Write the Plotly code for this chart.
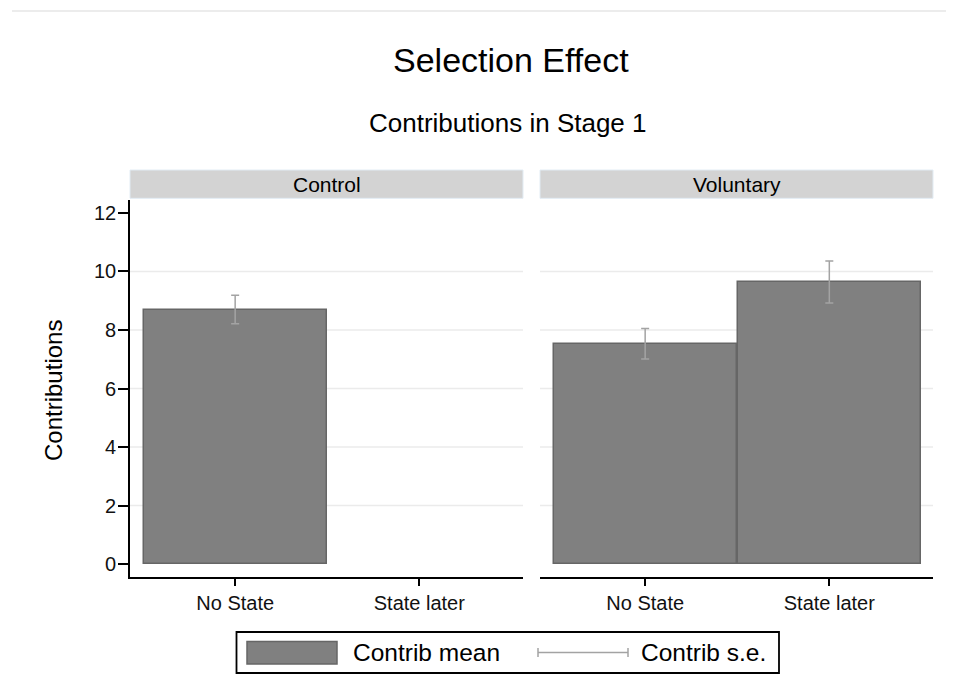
import plotly.graph_objects as go

# ---- data ----
panels = ["Control", "Voluntary"]
categories = ["No State", "State later"]
cat_pos = [1, 2]
control_mean = [8.70, None]
control_se = [0.49, None]
voluntary_mean = [7.53, 9.64]
voluntary_se = [0.52, 0.72]
y_ticks = [0, 2, 4, 6, 8, 10, 12]
grid_vals = [2, 4, 6, 8, 10]

title = "Selection Effect"
subtitle = "Contributions in Stage 1"
y_title = "Contributions"
legend_labels = ["Contrib mean", "Contrib s.e."]

# ---- style ----
OFF = 8  # page body margin
W, H = 954 - OFF, 699 - OFF
FONT = "Liberation Sans, Arial, sans-serif"
BAR_FILL = "#808080"
BAR_LINE = "#666666"
ERR_COL = "#a3a3a3"
GRID_COL = "#ebebeb"
STRIP_FILL = "#d3d3d3"

def px(x):
    return (x - OFF) / W

def py(y):
    return 1 - (y - OFF) / H

x_left = (130, 523)
x_right = (540, 933)
plot_top, plot_bot = 200, 576.7
strip_top, strip_bot = 170, 198.3

fig = go.Figure()

for i, (means, ses) in enumerate([(control_mean, control_se), (voluntary_mean, voluntary_se)]):
    xs = [p for p, m in zip(cat_pos, means) if m is not None]
    ms = [m for m in means if m is not None]
    ss = [s for s in ses if s is not None]
    xa = "x" if i == 0 else "x2"
    ya = "y" if i == 0 else "y2"
    fig.add_trace(go.Bar(
        x=xs, y=ms, width=0.995, xaxis=xa, yaxis=ya,
        marker=dict(color=BAR_FILL, line=dict(color=BAR_LINE, width=1.5)),
        showlegend=False, hoverinfo="skip",
    ))
    fig.add_trace(go.Scatter(
        x=xs, y=ms, mode="markers", xaxis=xa, yaxis=ya,
        marker=dict(size=0.1, color="rgba(0,0,0,0)"),
        error_y=dict(type="data", array=ss, color=ERR_COL, thickness=1.5, width=4),
        showlegend=False, hoverinfo="skip",
    ))

yr = [-0.434, 12.444]
xr = [0.429, 2.563]
axis_common = dict(showgrid=False, zeroline=False, linecolor="black", linewidth=1.6,
                   tickfont=dict(family=FONT, size=20, color="#111111"))

fig.update_layout(
    width=W, height=H,
    margin=dict(l=0, r=0, t=0, b=0),
    paper_bgcolor="white", plot_bgcolor="white",
    font=dict(family=FONT, color="black"),
    bargap=0,
    xaxis=dict(domain=[px(x_left[0]), px(x_left[1])], range=xr, tickvals=cat_pos, ticktext=categories,
               ticks="outside", ticklen=7, tickwidth=1.6, tickcolor="black", showline=True,
               anchor="y", **axis_common),
    xaxis2=dict(domain=[px(x_right[0]), px(x_right[1])], range=xr, tickvals=cat_pos, ticktext=categories,
                ticks="outside", ticklen=7, tickwidth=1.6, tickcolor="black", showline=True,
                anchor="y2", **axis_common),
    yaxis=dict(domain=[py(plot_bot), py(plot_top)], range=yr, tickvals=y_ticks,
               ticks="outside", ticklen=10, tickwidth=1.6, tickcolor="black", showline=True,
               ticklabelstandoff=-2, anchor="x", **axis_common),
    yaxis2=dict(domain=[py(plot_bot), py(plot_top)], range=yr, tickvals=y_ticks, showticklabels=False,
                showline=False, showgrid=False, zeroline=False, anchor="x2"),
)

shapes = []
# gridlines (in data coordinates)
for ya, xa in [("y", "x"), ("y2", "x2")]:
    for g in grid_vals:
        shapes.append(dict(type="line", xref=f"{xa} domain", yref=ya, x0=0, x1=1, y0=g, y1=g,
                           line=dict(color=GRID_COL, width=1.6), layer="below"))
# strips
for (xa0, xa1) in [x_left, x_right]:
    shapes.append(dict(type="rect", xref="paper", yref="paper", x0=px(xa0), x1=px(xa1),
                       y0=py(strip_bot), y1=py(strip_top), fillcolor=STRIP_FILL,
                       line=dict(color="#e2ecf4", width=1)))
# top faint line
shapes.append(dict(type="line", xref="paper", yref="paper", x0=px(12), x1=1, y0=py(11), y1=py(11),
                   line=dict(color="#ececec", width=2)))
# legend box
shapes.append(dict(type="rect", xref="paper", yref="paper", x0=px(236.5), x1=px(779), y0=py(673), y1=py(632),
                   fillcolor="white", line=dict(color="black", width=1.8)))
shapes.append(dict(type="rect", xref="paper", yref="paper", x0=px(247), x1=px(337), y0=py(664), y1=py(641.5),
                   fillcolor=BAR_FILL, line=dict(color=BAR_LINE, width=1.5)))
shapes.append(dict(type="line", xref="paper", yref="paper", x0=px(538), x1=px(628), y0=py(652.5), y1=py(652.5),
                   line=dict(color=ERR_COL, width=1.5)))
for xc in (538, 628):
    shapes.append(dict(type="line", xref="paper", yref="paper", x0=px(xc), x1=px(xc), y0=py(648), y1=py(657),
                       line=dict(color=ERR_COL, width=1.5)))
fig.update_layout(shapes=shapes)

ann = []
ann.append(dict(text=title, x=px(511), y=py(60), xref="paper", yref="paper", showarrow=False,
                xanchor="center", yanchor="middle", font=dict(family=FONT, size=34, color="black")))
ann.append(dict(text=subtitle, x=px(508), y=py(123), xref="paper", yref="paper", showarrow=False,
                xanchor="center", yanchor="middle", font=dict(family=FONT, size=26, color="black")))
for name, (xa0, xa1) in zip(panels, [x_left, x_right]):
    ann.append(dict(text=name, x=px((xa0 + xa1) / 2), y=py((strip_top + strip_bot) / 2), xref="paper", yref="paper",
                    showarrow=False, xanchor="center", yanchor="middle",
                    font=dict(family=FONT, size=21, color="black")))
ann.append(dict(text=y_title, x=px(53), y=py(391), xref="paper", yref="paper", showarrow=False, textangle=-90,
                xanchor="center", yanchor="middle", font=dict(family=FONT, size=24, color="black")))
ann.append(dict(text=legend_labels[0], x=px(351), y=py(652), xref="paper", yref="paper", showarrow=False,
                xanchor="left", yanchor="middle", font=dict(family=FONT, size=24.5, color="black")))
ann.append(dict(text=legend_labels[1], x=px(639), y=py(652), xref="paper", yref="paper", showarrow=False,
                xanchor="left", yanchor="middle", font=dict(family=FONT, size=24.5, color="black")))
fig.update_layout(annotations=ann)

fig.write_html("out.html")
